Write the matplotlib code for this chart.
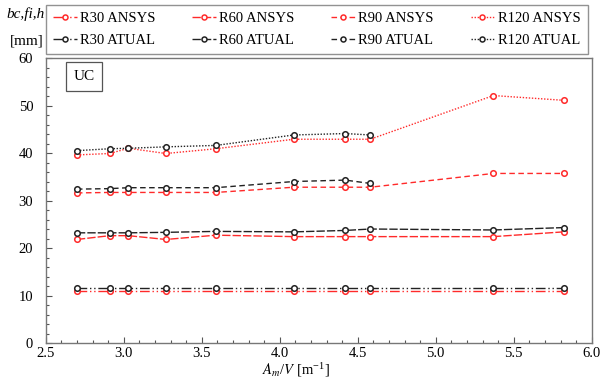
import matplotlib
matplotlib.use("Agg")
import matplotlib.pyplot as plt
from matplotlib.ticker import MultipleLocator

plt.rcParams['font.family'] = ['Liberation Serif', 'DejaVu Serif']
plt.rcParams['mathtext.fontset'] = 'stix'

x = [2.70, 2.91, 3.03, 3.27, 3.59, 4.09, 4.42, 4.58, 5.37, 5.82]
x_short = x[:8]

r30_ansys = [11.0, 11.0, 11.0, 11.0, 11.0, 11.0, 11.0, 11.0, 11.0, 11.0]
r60_ansys = [21.8, 22.6, 22.6, 21.8, 22.7, 22.4, 22.4, 22.4, 22.4, 23.4]
r90_ansys = [31.6, 31.7, 31.7, 31.7, 31.7, 32.8, 32.8, 32.8, 35.7, 35.7]
r120_ansys = [39.6, 39.9, 41.0, 39.9, 40.9, 42.9, 42.9, 42.9, 52.1, 51.1]

r30_atual = [11.5, 11.5, 11.5, 11.5, 11.5, 11.5, 11.5, 11.5, 11.5, 11.5]
r60_atual = [23.2, 23.2, 23.2, 23.3, 23.5, 23.4, 23.7, 24.0, 23.8, 24.3]
r90_atual = [32.4, 32.5, 32.7, 32.7, 32.7, 34.0, 34.3, 33.6]
r120_atual = [40.5, 40.9, 41.0, 41.3, 41.6, 43.8, 44.1, 43.8]

labels_ansys = ["R30 ANSYS", "R60 ANSYS", "R90 ANSYS", "R120 ANSYS"]
labels_atual = ["R30 ATUAL", "R60 ATUAL", "R90 ATUAL", "R120 ATUAL"]

styles = [(0, (7, 2, 1, 2, 1, 2)), (0, (6, 1.5)), (0, (4, 2.5)), (0, (1, 1.2))]
red = '#ff2a2a'
blk = '#222222'

fig = plt.figure(figsize=(6.04, 3.81), dpi=100)
ax = fig.add_axes([0.0757, 0.0997, 0.904, 0.748])

ansys = [r30_ansys, r60_ansys, r90_ansys, r120_ansys]
atual = [r30_atual, r60_atual, r90_atual, r120_atual]
handles = []
for i in range(4):
    h1, = ax.plot(x, ansys[i], color=red, ls=styles[i], lw=1.0, marker='o',
                  ms=4.0, mfc='white', mec=red, mew=1.1, label=labels_ansys[i])
    xa = x if len(atual[i]) == len(x) else x_short
    h2, = ax.plot(xa, atual[i], color=blk, ls=styles[i], lw=1.0, marker='o',
                  ms=4.0, mfc='white', mec=blk, mew=1.1, label=labels_atual[i])
    handles += [h1, h2]

ax.set_xlim(2.5, 6.0)
ax.set_ylim(0, 60)
ax.xaxis.set_major_locator(MultipleLocator(0.5))
ax.xaxis.set_minor_locator(MultipleLocator(0.1))
ax.yaxis.set_major_locator(MultipleLocator(10))
ax.yaxis.set_minor_locator(MultipleLocator(2))
ax.xaxis.set_major_formatter(plt.FuncFormatter(lambda v, p: f"{v:.1f}"))
ax.tick_params(which='both', direction='in', top=False, right=False,
               labelsize=10.5, color='#555555', width=0.8)
ax.tick_params(which='major', length=4)
ax.tick_params(axis='y', which='major', pad=9)
ax.tick_params(axis='x', which='major', pad=3)
ax.tick_params(which='minor', length=2.5)
for s in ax.spines.values():
    s.set_color('#777777')
    s.set_linewidth(1.0)

ax.text(0.07, 0.935, "UC", transform=ax.transAxes, fontsize=11, ha='center', va='center',
        bbox=dict(boxstyle='square,pad=0.5', fc='white', ec='#555555', lw=0.9))

fig.text(0.042, 0.962, "bc,fi,h", fontsize=11, style='italic', ha='center', va='center')
fig.text(0.044, 0.892, "[mm]", fontsize=11, ha='center', va='center')
fig.text(0.49, 0.006, r"$A_m$/$V$ [m$^{\mathregular{-1}}$]", fontsize=10.5, ha='center', va='bottom')

leg = fig.legend(handles=handles, ncol=4, loc='center',
                 bbox_to_anchor=(0.076, 0.855, 0.897, 0.135), mode='expand',
                 fontsize=10.5, frameon=True, fancybox=False, handlelength=1.6,
                 handletextpad=0.25, borderpad=0.5, labelspacing=0.6,
                 markerscale=0.9, borderaxespad=0)
leg.get_frame().set_edgecolor('#777777')
leg.get_frame().set_linewidth(1.0)

fig.savefig("out.png", dpi=100)
